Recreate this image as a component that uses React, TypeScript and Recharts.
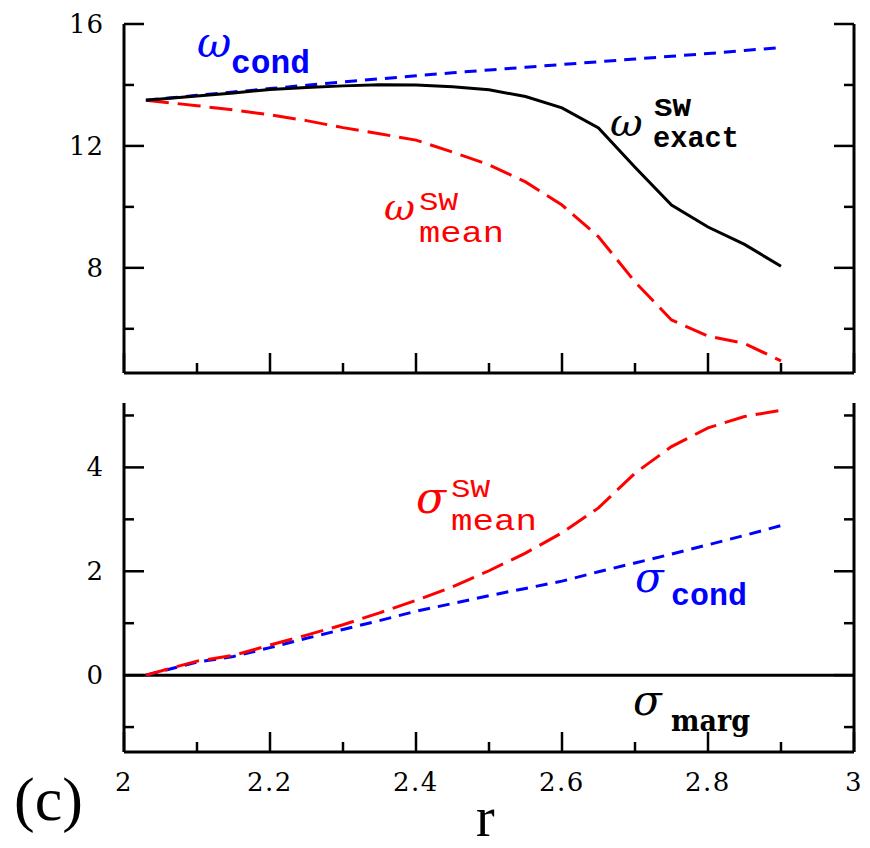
import React from 'react';
import { LineChart, Line, XAxis, YAxis, ReferenceLine } from 'recharts';

// separation r, sampled every 0.05 from contact
const rValues = [2.03, 2.1, 2.15, 2.2, 2.25, 2.3, 2.35, 2.4, 2.45, 2.5, 2.55, 2.6, 2.65, 2.7, 2.75, 2.8, 2.85, 2.9];

// upper panel: omega
const omegaCond = [13.5, 13.66, 13.77, 13.88, 13.99, 14.1, 14.2, 14.3, 14.4, 14.49, 14.58, 14.67, 14.76, 14.85, 14.94, 15.03, 15.13, 15.23];
const omegaExact = [13.5, 13.64, 13.74, 13.85, 13.92, 13.97, 14.01, 14.0, 13.94, 13.84, 13.62, 13.25, 12.59, 11.3, 10.06, 9.34, 8.77, 8.05];
const omegaMean = [13.5, 13.32, 13.18, 13.02, 12.83, 12.6, 12.4, 12.19, 11.8, 11.38, 10.82, 10.06, 9.02, 7.54, 6.29, 5.76, 5.52, 4.95];

// lower panel: sigma
const sigmaCond = [0, 0.25, 0.36, 0.53, 0.71, 0.88, 1.05, 1.23, 1.38, 1.53, 1.67, 1.81, 1.99, 2.16, 2.33, 2.51, 2.69, 2.88];
const sigmaMean = [0, 0.27, 0.38, 0.58, 0.77, 0.97, 1.2, 1.44, 1.7, 2.01, 2.35, 2.74, 3.22, 3.89, 4.4, 4.76, 4.98, 5.1];
const sigmaMarg = 0;

const xTicks = [2, 2.1, 2.2, 2.3, 2.4, 2.5, 2.6, 2.7, 2.8, 2.9, 3];
const omegaTicks = [6, 8, 10, 12, 14, 16];
const sigmaTicks = [-1, 0, 1, 2, 3, 4, 5];

const topData = rValues.map((r, i) => ({ r, cond: omegaCond[i], exact: omegaExact[i], mean: omegaMean[i] }));
const bottomData = rValues.map((r, i) => ({ r, cond: sigmaCond[i], mean: sigmaMean[i] }));

const BLUE = '#0000ff';
const RED = '#ff0000';
const FRAME = 3;
const MAJOR = 20;
const MINOR = 10;
const TICK_FONT = '"DejaVu Serif", serif';

type Side = 'bottom' | 'top' | 'left' | 'right';

const xMajor = (v: number) => Math.round(v * 10) % 2 === 0;
const omegaMajor = (v: number) => v % 4 === 0;
const sigmaMajor = (v: number) => v % 2 === 0;
const fmtX = (v: number) => (v === 2 || v === 3 ? String(v) : v.toFixed(1));

// inward tick marks, with optional labels outside the frame
function makeTick(side: Side, isMajor: (v: number) => boolean, labels: boolean, fmt = (v: number) => String(v)) {
  return (props: any) => {
    const { x, y, payload } = props;
    const v = payload.value as number;
    const len = isMajor(v) ? MAJOR : MINOR;
    let line;
    if (side === 'bottom') line = <line x1={x} x2={x} y1={y} y2={y - len} />;
    else if (side === 'top') line = <line x1={x} x2={x} y1={y} y2={y + len} />;
    else if (side === 'left') line = <line x1={x} x2={x + len} y1={y} y2={y} />;
    else line = <line x1={x} x2={x - len} y1={y} y2={y} />;
    let label = null;
    if (labels && isMajor(v)) {
      label =
        side === 'bottom' ? (
          <text x={x} y={y + 39} textAnchor="middle" fontSize={26} letterSpacing={1.5} fontFamily={TICK_FONT} fill="#000">
            {fmt(v)}
          </text>
        ) : (
          <text x={x - 20} y={y + 9} textAnchor="end" fontSize={26} letterSpacing={1} fontFamily={TICK_FONT} fill="#000">
            {fmt(v)}
          </text>
        );
    }
    return (
      <g>
        <g stroke="#000" strokeWidth={2.5}>{line}</g>
        {label}
      </g>
    );
  };
}

const axisLine = { stroke: '#000', strokeWidth: FRAME };

function Frame({ yDomain, yTicks, yMajor, xLabels }: { yDomain: [number, number]; yTicks: number[]; yMajor: (v: number) => boolean; xLabels: boolean }) {
  return [
    <XAxis key="xb" xAxisId="b" dataKey="r" type="number" domain={[2, 3]} ticks={xTicks} interval={0} allowDataOverflow
      height={xLabels ? 96 : 27} tickSize={0} tickMargin={0} axisLine={axisLine} tickLine={false}
      tick={makeTick('bottom', xMajor, xLabels, fmtX)} />,
    <XAxis key="xt" xAxisId="t" orientation="top" dataKey="r" type="number" domain={[2, 3]} ticks={xTicks} interval={0} allowDataOverflow
      height={0} tickSize={0} tickMargin={0} axisLine={axisLine} tickLine={false}
      tick={makeTick('top', xMajor, false)} />,
    <YAxis key="yl" yAxisId="l" type="number" domain={yDomain} ticks={yTicks} interval={0} allowDataOverflow
      width={124} tickSize={0} tickMargin={0} axisLine={axisLine} tickLine={false}
      tick={makeTick('left', yMajor, true)} />,
    <YAxis key="yr" yAxisId="r" orientation="right" type="number" domain={yDomain} ticks={yTicks} interval={0} allowDataOverflow
      width={16} tickSize={0} tickMargin={0} axisLine={axisLine} tickLine={false}
      tick={makeTick('right', yMajor, false)} />,
  ];
}

const greek = { fontFamily: '"DejaVu Serif", serif', fontStyle: 'italic' as const };
const mono = { fontFamily: '"Liberation Mono", "Courier New", monospace' };

function Annotations() {
  return (
    <svg width={870} height={848} style={{ position: 'absolute', left: 0, top: 0, pointerEvents: 'none' }}>
      {/* omega_cond */}
      <g fill={BLUE}>
        <text x={197} y={57} fontSize={42} {...greek}>ω</text>
        <text x={231} y={73} fontSize={33} fontWeight="bold" textLength={79} lengthAdjust="spacingAndGlyphs" {...mono}>cond</text>
      </g>
      {/* omega^SW_exact */}
      <g fill="#000">
        <text x={610} y={136} fontSize={40} {...greek}>ω</text>
        <text x={654} y={116} fontSize={25} fontWeight="bold" textLength={37} lengthAdjust="spacingAndGlyphs" {...mono}>SW</text>
        <text x={653} y={147} fontSize={30} fontWeight="bold" textLength={86} lengthAdjust="spacingAndGlyphs" {...mono}>exact</text>
      </g>
      {/* omega^SW_mean */}
      <g fill={RED}>
        <text x={384} y={220} fontSize={38} {...greek}>ω</text>
        <text x={419} y={210} fontSize={26} textLength={39} lengthAdjust="spacingAndGlyphs" {...mono}>SW</text>
        <text x={419} y={242} fontSize={30} textLength={85} lengthAdjust="spacingAndGlyphs" {...mono}>mean</text>
      </g>
      {/* sigma^SW_mean */}
      <g fill={RED}>
        <text x={416} y={513} fontSize={44} {...greek}>σ</text>
        <text x={451} y={497} fontSize={26} textLength={39} lengthAdjust="spacingAndGlyphs" {...mono}>SW</text>
        <text x={451} y={530} fontSize={30} textLength={86} lengthAdjust="spacingAndGlyphs" {...mono}>mean</text>
      </g>
      {/* sigma_cond */}
      <g fill={BLUE}>
        <text x={635} y={592} fontSize={42} {...greek}>σ</text>
        <text x={671} y={605} fontSize={32} fontWeight="bold" textLength={76} lengthAdjust="spacingAndGlyphs" {...mono}>cond</text>
      </g>
      {/* sigma_marg */}
      <g fill="#000">
        <text x={633} y={715} fontSize={42} {...greek}>σ</text>
        <text x={671} y={731} fontSize={30} fontWeight="bold" textLength={79} lengthAdjust="spacingAndGlyphs" fontFamily='"DejaVu Serif", serif'>marg</text>
      </g>
      {/* panel tag and axis title */}
      <text x={14} y={820} fontSize={62} fontFamily='"Liberation Serif", serif' fill="#000">(c)</text>
      <text x={476} y={836} fontSize={56} fontFamily='"Liberation Serif", serif' fill="#000">r</text>
    </svg>
  );
}

export default function App() {
  return (
    <div style={{ position: 'absolute', left: 0, top: 0, width: 870, height: 848, background: '#fff', overflow: 'hidden' }}>
      <div style={{ position: 'absolute', left: 0, top: 0 }}>
        <LineChart width={870} height={400} data={topData} margin={{ top: 24, right: 0, bottom: 0, left: 0 }}>
          {Frame({ yDomain: [4.55, 16], yTicks: omegaTicks, yMajor: omegaMajor, xLabels: false })}
          <Line xAxisId="b" yAxisId="l" type="linear" dataKey="cond" stroke={BLUE} strokeWidth={3} strokeDasharray="12 8" dot={false} isAnimationActive={false} />
          <Line xAxisId="b" yAxisId="l" type="linear" dataKey="mean" stroke={RED} strokeWidth={3} strokeDasharray="23 9" dot={false} isAnimationActive={false} />
          <Line xAxisId="b" yAxisId="l" type="linear" dataKey="exact" stroke="#000" strokeWidth={3} dot={false} isAnimationActive={false} />
        </LineChart>
      </div>
      <div style={{ position: 'absolute', left: 0, top: 379 }}>
        <LineChart width={870} height={469} data={bottomData} margin={{ top: 24, right: 0, bottom: 0, left: 0 }}>
          {Frame({ yDomain: [-1.48, 5.24], yTicks: sigmaTicks, yMajor: sigmaMajor, xLabels: true })}
          <ReferenceLine xAxisId="b" yAxisId="l" y={sigmaMarg} stroke="#000" strokeWidth={3} />
          <Line xAxisId="b" yAxisId="l" type="linear" dataKey="cond" stroke={BLUE} strokeWidth={3} strokeDasharray="12 8" dot={false} isAnimationActive={false} />
          <Line xAxisId="b" yAxisId="l" type="linear" dataKey="mean" stroke={RED} strokeWidth={3} strokeDasharray="23 9" dot={false} isAnimationActive={false} />
        </LineChart>
      </div>
      <Annotations />
    </div>
  );
}
